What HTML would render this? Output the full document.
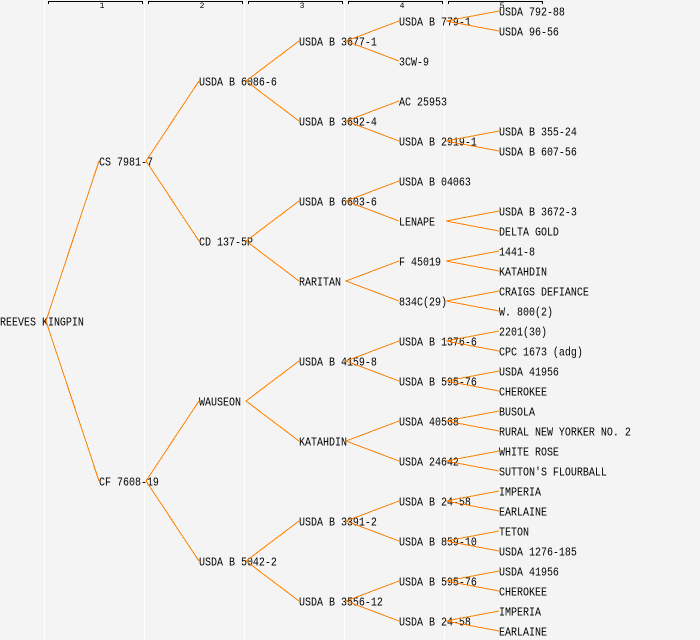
<!DOCTYPE html>
<html>
<head>
<meta charset="utf-8">
<style>
html,body{margin:0;padding:0;background:#f4f4f4;}
svg{display:block;}
text{font-family:"Liberation Mono",monospace;font-size:10px;fill:#000;transform-box:fill-box;transform-origin:0 80%;transform:scaleY(1.2);}
text.n{font-size:8px;text-anchor:middle;transform:none;}
</style>
</head>
<body>
<svg width="700" height="640" viewBox="0 0 700 640" xmlns="http://www.w3.org/2000/svg">
<rect width="700" height="640" fill="#f4f4f4"/>
<path d="M44.5 0V640M144.5 0V640M244.5 0V640M344.5 0V640M444.5 0V640" stroke="#fff" stroke-width="1" fill="none"/>
<path d="M48.5 4V1.5H142.5V4M148.5 4V1.5H242.5V4M248.5 4V1.5H342.5V4M348.5 4V1.5H442.5V4M448.5 4V1.5H542.5V4" stroke="#000" stroke-width="1" fill="none" shape-rendering="crispEdges"/>
<text class="n" x="102" y="8">1</text>
<text class="n" x="202" y="8">2</text>
<text class="n" x="302" y="8">3</text>
<text class="n" x="402" y="8">4</text>
<text class="n" x="502" y="8">5</text>

<text x="0" y="326">REEVES KINGPIN</text>

<text x="99" y="166">CS 7981-7</text>
<text x="99" y="486">CF 7608-19</text>

<text x="199" y="86">USDA B 6086-6</text>
<text x="199" y="246">CD 137-5P</text>
<text x="199" y="406">WAUSEON</text>
<text x="199" y="566">USDA B 5042-2</text>

<text x="299" y="46">USDA B 3677-1</text>
<text x="299" y="126">USDA B 3692-4</text>
<text x="299" y="206">USDA B 6603-6</text>
<text x="299" y="286">RARITAN</text>
<text x="299" y="366">USDA B 4159-8</text>
<text x="299" y="446">KATAHDIN</text>
<text x="299" y="526">USDA B 3391-2</text>
<text x="299" y="606">USDA B 3556-12</text>

<text x="399" y="26">USDA B 779-1</text>
<text x="399" y="66">3CW-9</text>
<text x="399" y="106">AC 25953</text>
<text x="399" y="146">USDA B 2919-1</text>
<text x="399" y="186">USDA B 04063</text>
<text x="399" y="226">LENAPE</text>
<text x="399" y="266">F 45019</text>
<text x="399" y="306">834C(29)</text>
<text x="399" y="346">USDA B 1376-6</text>
<text x="399" y="386">USDA B 595-76</text>
<text x="399" y="426">USDA 40568</text>
<text x="399" y="466">USDA 24642</text>
<text x="399" y="506">USDA B 24-58</text>
<text x="399" y="546">USDA B 859-10</text>
<text x="399" y="586">USDA B 595-76</text>
<text x="399" y="626">USDA B 24-58</text>

<text x="499" y="16">USDA 792-88</text>
<text x="499" y="36">USDA 96-56</text>
<text x="499" y="136">USDA B 355-24</text>
<text x="499" y="156">USDA B 607-56</text>
<text x="499" y="216">USDA B 3672-3</text>
<text x="499" y="236">DELTA GOLD</text>
<text x="499" y="256">1441-8</text>
<text x="499" y="276">KATAHDIN</text>
<text x="499" y="296">CRAIGS DEFIANCE</text>
<text x="499" y="316">W. 800(2)</text>
<text x="499" y="336">2201(30)</text>
<text x="499" y="356">CPC 1673 (adg)</text>
<text x="499" y="376">USDA 41956</text>
<text x="499" y="396">CHEROKEE</text>
<text x="499" y="416">BUSOLA</text>
<text x="499" y="436">RURAL NEW YORKER NO. 2</text>
<text x="499" y="456">WHITE ROSE</text>
<text x="499" y="476">SUTTON'S FLOURBALL</text>
<text x="499" y="496">IMPERIA</text>
<text x="499" y="516">EARLAINE</text>
<text x="499" y="536">TETON</text>
<text x="499" y="556">USDA 1276-185</text>
<text x="499" y="576">USDA 41956</text>
<text x="499" y="596">CHEROKEE</text>
<text x="499" y="616">IMPERIA</text>
<text x="499" y="636">EARLAINE</text>

<path fill="none" stroke="#ff8000" stroke-width="1" shape-rendering="crispEdges" d="
M99 161L46 321L99 481
M199 81L146 161L199 241
M199 401L146 481L199 561
M299 41L246 81L299 121
M299 201L246 241L299 281
M299 361L246 401L299 441
M299 521L246 561L299 601
M399 21L346 41L399 61
M399 101L346 121L399 141
M399 181L346 201L399 221
M399 261L346 281L399 301
M399 341L346 361L399 381
M399 421L346 441L399 461
M399 501L346 521L399 541
M399 581L346 601L399 621
M499 11L446 21L499 31
M499 131L446 141L499 151
M499 211L446 221L499 231
M499 251L446 261L499 271
M499 291L446 301L499 311
M499 331L446 341L499 351
M499 371L446 381L499 391
M499 411L446 421L499 431
M499 451L446 461L499 471
M499 491L446 501L499 511
M499 531L446 541L499 551
M499 571L446 581L499 591
M499 611L446 621L499 631"/>
</svg>
</body>
</html>
